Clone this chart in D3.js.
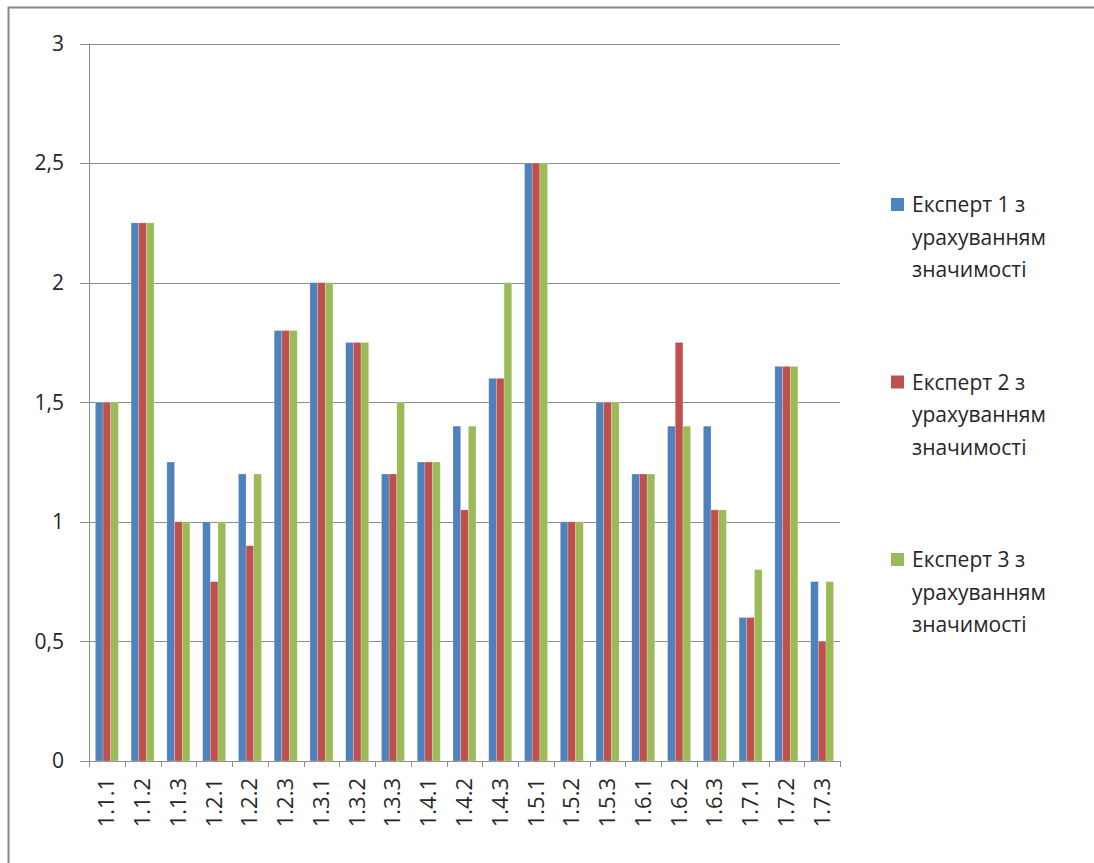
<!DOCTYPE html>
<html>
<head>
<meta charset="utf-8">
<script src="https://cdn.jsdelivr.net/npm/d3@7"></script>
<style>
  body { margin: 0; background: #fff; }
  text { font-family: 'Open Sans', sans-serif; fill: #262626; }
</style>
</head>
<body>
<svg id="chart" width="1094" height="863"></svg>
<script>
// Categories and expert scores
const categories = ['1.1.1', '1.1.2', '1.1.3', '1.2.1', '1.2.2', '1.2.3', '1.3.1', '1.3.2', '1.3.3', '1.4.1', '1.4.2',
    '1.4.3', '1.5.1', '1.5.2', '1.5.3', '1.6.1', '1.6.2', '1.6.3', '1.7.1', '1.7.2', '1.7.3'];
const expert1 = [1.5, 2.25, 1.25, 1.0, 1.2, 1.8, 2.0, 1.75, 1.2, 1.25, 1.4, 1.6, 2.5, 1.0, 1.5, 1.2, 1.4, 1.4, 0.6, 1.65, 0.75];
const expert2 = [1.5, 2.25, 1.0, 0.75, 0.9, 1.8, 2.0, 1.75, 1.2, 1.25, 1.05, 1.6, 2.5, 1.0, 1.5, 1.2, 1.75, 1.05, 0.6, 1.65, 0.5];
const expert3 = [1.5, 2.25, 1.0, 1.0, 1.2, 1.8, 2.0, 1.75, 1.5, 1.25, 1.4, 2.0, 2.5, 1.0, 1.5, 1.2, 1.4, 1.05, 0.8, 1.65, 0.75];
const seriesNames = ['Експерт 1 з урахуванням значимості', 'Експерт 2 з урахуванням значимості', 'Експерт 3 з урахуванням значимості'];
const seriesColors = ['#4F81BD', '#C0504D', '#9BBB59'];
const yTicks = [0, 0.5, 1, 1.5, 2, 2.5, 3];

const series = [expert1, expert2, expert3];
const svg = d3.select('#chart');

// outer chart frame (only left and top edges are in view)
svg.append('rect')
    .attr('x', 8.5).attr('y', 7.5)
    .attr('width', 1200).attr('height', 1000)
    .attr('fill', 'none').attr('stroke', '#888').attr('stroke-width', 2);

const plot = { left: 89, right: 840, top: 43.5, bottom: 761 };

const x = d3.scaleBand()
    .domain(categories)
    .range([plot.left, plot.right])
    .paddingInner(0.357)
    .paddingOuter(0.178);
const xs = d3.scaleBand()
    .domain(d3.range(series.length))
    .range([0, x.bandwidth()]);
const y = d3.scaleLinear().domain([0, 3]).range([plot.bottom, plot.top]);

// gridlines + y ticks
svg.append('g')
    .selectAll('line')
    .data(yTicks)
    .join('line')
    .attr('x1', 80).attr('x2', plot.right)
    .attr('y1', (d) => Math.round(y(d)) + 0.5)
    .attr('y2', (d) => Math.round(y(d)) + 0.5)
    .attr('stroke', '#8c8c8c').attr('stroke-width', 1);

svg.append('g')
    .selectAll('text')
    .data(yTicks)
    .join('text')
    .attr('x', 64)
    .attr('y', (d) => y(d))
    .attr('dy', '0.35em')
    .attr('text-anchor', 'end')
    .style('font-size', '21px')
    .text((d) => String(d).replace('.', ','));

// bars
const groups = svg.append('g')
    .selectAll('g')
    .data(categories)
    .join('g')
    .attr('transform', (d) => 'translate(' + x(d) + ',0)');
groups.selectAll('rect')
    .data((d, i) => series.map((s, k) => ({ k, v: s[i] })))
    .join('rect')
    .attr('x', (d) => xs(d.k))
    .attr('y', (d) => y(d.v))
    .attr('width', xs.bandwidth())
    .attr('height', (d) => y(0) - y(d.v))
    .attr('fill', (d) => seriesColors[d.k])
    .attr('stroke', 'rgba(255,255,255,0.35)')
    .attr('stroke-width', 0.6);

// y axis line
svg.append('line')
    .attr('x1', plot.left + 0.5).attr('x2', plot.left + 0.5)
    .attr('y1', plot.top).attr('y2', plot.bottom + 6)
    .attr('stroke', '#8c8c8c');

// x tick marks between categories
const step = x.step();
svg.append('g')
    .selectAll('line')
    .data(d3.range(categories.length + 1))
    .join('line')
    .attr('x1', (i) => Math.round(plot.left + i * step) + 0.5)
    .attr('x2', (i) => Math.round(plot.left + i * step) + 0.5)
    .attr('y1', plot.bottom).attr('y2', plot.bottom + 6)
    .attr('stroke', '#8c8c8c');

// x labels, rotated
svg.append('g')
    .selectAll('text')
    .data(categories)
    .join('text')
    .attr('transform', (d) => 'translate(' + (x(d) + x.bandwidth() / 2 + 7.5) + ',778) rotate(-90)')
    .attr('text-anchor', 'end')
    .style('font-size', '22px')
    .text((d) => d);

// legend
const legend = svg.append('g')
    .selectAll('g')
    .data(seriesNames)
    .join('g')
    .attr('transform', (d, i) => 'translate(891,' + (198 + i * 177.5) + ')');
legend.append('rect')
    .attr('width', 13).attr('height', 13)
    .attr('fill', (d, i) => seriesColors[i]);
legend.append('text')
    .attr('x', 21)
    .style('font-size', '21px')
    .selectAll('tspan')
    .data((d) => [d.split(' ').slice(0, 3).join(' '), 'урахуванням', 'значимості'])
    .join('tspan')
    .attr('x', 21)
    .attr('y', (d, i) => 14 + i * 32.5)
    .text((d) => d);
</script>
</body>
</html>
